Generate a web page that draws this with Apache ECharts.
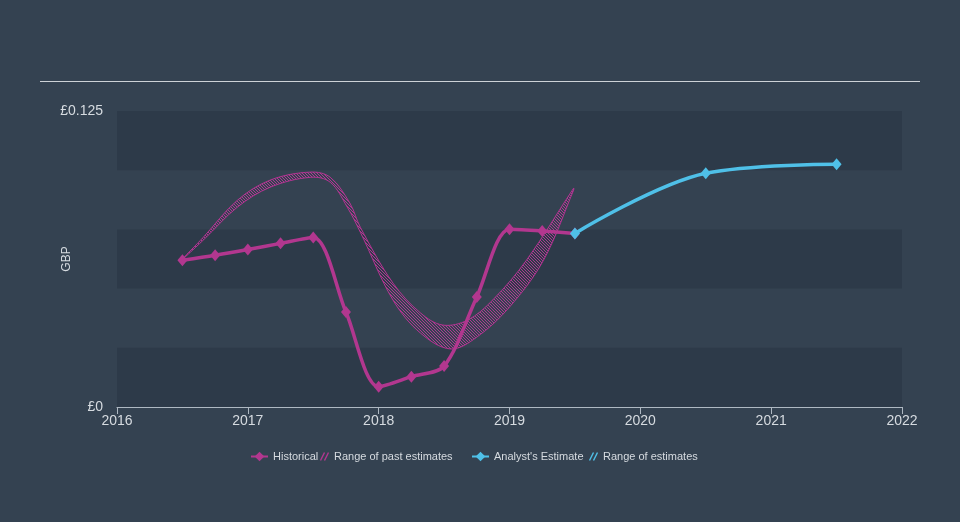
<!DOCTYPE html>
<html>
<head>
<meta charset="utf-8">
<script src="https://cdn.jsdelivr.net/npm/echarts@6/dist/echarts.min.js"></script>
<style>
  html, body { margin: 0; padding: 0; background: #344251; }
  #chart { width: 960px; height: 522px; }
</style>
</head>
<body>
<div id="chart"></div>
<script>
// ---- data ----
const historicalX = [2016.5, 2016.75, 2017, 2017.25, 2017.5, 2017.75, 2018, 2018.25, 2018.5, 2018.75, 2019, 2019.25, 2019.5];
const historicalY = [0.0620, 0.0641, 0.0665, 0.0691, 0.0716, 0.0401, 0.0086, 0.0128, 0.0173, 0.0465, 0.0751, 0.0743, 0.0733];
const estimateX = [2019.5, 2020.5, 2021.5];
const estimateY = [0.0733, 0.0987, 0.1025];
const pastRangeX     = [2016.50, 2016.66, 2016.92, 2017.17, 2017.48, 2017.63, 2017.78, 2017.86, 2018.11, 2018.32, 2018.49, 2018.68, 2018.87, 2019.13, 2019.49];
const pastRangeUpper = [0.0624, 0.0717, 0.0873, 0.0958, 0.0992, 0.0970, 0.0861, 0.0759, 0.0523, 0.0397, 0.0346, 0.0367, 0.0451, 0.0620, 0.0924];
const pastRangeLowerX = [2016.50, 2016.66, 2016.92, 2017.17, 2017.48, 2017.63, 2017.76, 2017.86, 2018.11, 2018.32, 2018.55, 2018.75, 2019.00, 2019.26, 2019.49];
const pastRangeLower  = [0.0624, 0.0705, 0.0844, 0.0928, 0.0970, 0.0949, 0.0844, 0.0738, 0.0451, 0.0312, 0.0245, 0.0295, 0.0422, 0.0620, 0.0916];
const xTicks = [2016, 2017, 2018, 2019, 2020, 2021, 2022];
const yTickLabels = { 0: '£0', 0.125: '£0.125' };

const FONT = 'Liberation Sans, Arial, sans-serif';
const MAGENTA = '#b2378f';
const BLUE = '#4fc0e8';
const TEXT = '#d6dbe0';

function makeHatch(color, size) {
  const c = document.createElement('canvas');
  c.width = size; c.height = size;
  const ctx = c.getContext('2d');
  ctx.strokeStyle = color;
  ctx.lineWidth = 1;
  ctx.beginPath();
  ctx.moveTo(0, 0); ctx.lineTo(size, size);
  ctx.moveTo(-1, size - 1); ctx.lineTo(1, size + 1);
  ctx.moveTo(size - 1, -1); ctx.lineTo(size + 1, 1);
  ctx.stroke();
  return c;
}
function makeLegendHatch(color) {
  const c = document.createElement('canvas');
  c.width = 9; c.height = 9;
  const ctx = c.getContext('2d');
  ctx.strokeStyle = color;
  ctx.lineWidth = 1.4;
  ctx.beginPath();
  ctx.moveTo(0.5, 8.5); ctx.lineTo(4.5, 0.5);
  ctx.moveTo(4.5, 8.5); ctx.lineTo(8.5, 0.5);
  ctx.stroke();
  return 'image://' + c.toDataURL();
}

const hatchPattern = { image: makeHatch('rgba(188,56,152,0.9)', 3), repeat: 'repeat' };
const pastIcon = makeLegendHatch('#b2378f');
const futIcon = makeLegendHatch('#4fc0e8');

const legendText = { color: TEXT, fontSize: 11, fontFamily: FONT };
function legendAt(left, name, icon, w, h) {
  const item = icon ? { name: name, icon: icon } : { name: name };
  return {
    left: left, top: 451, itemWidth: w, itemHeight: h, itemGap: 0, padding: 0,
    textStyle: legendText, data: [item]
  };
}

const chart = echarts.init(document.getElementById('chart'));
const option = {
  backgroundColor: '#344251',
  animation: false,
  grid: { left: 117, right: 58, top: 111, bottom: 115 },
  graphic: [{
    type: 'line', shape: { x1: 40, y1: 81.5, x2: 920, y2: 81.5 },
    style: { stroke: '#cdd2d7', lineWidth: 1 }
  }],
  legend: [
    legendAt(250, 'Historical', null, 17, 12),
    legendAt(320, 'Range of past estimates', pastIcon, 9, 9),
    legendAt(471, "Analyst's Estimate", null, 17, 12),
    legendAt(589, 'Range of estimates', futIcon, 9, 9)
  ],
  xAxis: {
    type: 'value', min: 2016, max: 2022, interval: 1,
    axisLine: { show: true, lineStyle: { color: '#aeb8c2', width: 1 } },
    axisTick: { show: true, length: 7, lineStyle: { color: '#aeb8c2' } },
    splitLine: { show: false },
    axisLabel: {
      color: TEXT, fontSize: 14, fontFamily: FONT, margin: 7,
      formatter: v => (xTicks.indexOf(v) >= 0 ? String(v) : '')
    }
  },
  yAxis: {
    type: 'value', min: 0, max: 0.125, interval: 0.025,
    name: 'GBP', nameLocation: 'middle', nameGap: 44, nameMoveOverlap: false,
    nameTextStyle: { color: TEXT, fontSize: 12, fontFamily: FONT },
    axisLine: { show: false }, axisTick: { show: false },
    splitLine: { show: false },
    splitArea: { show: true, areaStyle: { color: ['#2d3a49', 'rgba(0,0,0,0)'] } },
    axisLabel: {
      color: TEXT, fontSize: 14, fontFamily: FONT, margin: 14, padding: [0, 0, 8, 0],
      formatter: v => {
        const k = Math.round(v * 1000) / 1000;
        return yTickLabels[k] !== undefined ? yTickLabels[k] : '';
      }
    }
  },
  series: [{
    name: 'Range of past estimates',
    type: 'custom',
    z: 1,
    itemStyle: { color: MAGENTA },
    data: [[pastRangeX[0], pastRangeUpper[0]]],
    encode: { x: 0, y: 1 },
    renderItem: function (params, api) {
      const pts = [];
      for (let i = 0; i < pastRangeX.length; i++) pts.push(api.coord([pastRangeX[i], pastRangeUpper[i]]));
      for (let i = pastRangeLowerX.length - 1; i >= 1; i--) pts.push(api.coord([pastRangeLowerX[i], pastRangeLower[i]]));
      return {
        type: 'polygon',
        shape: { points: pts, smooth: 0.35 },
        style: { fill: hatchPattern, stroke: 'rgba(185,52,150,0.95)', lineWidth: 1 }
      };
    }
  }, {
    name: 'Historical',
    type: 'line',
    z: 3,
    smooth: 0.3,
    symbol: 'diamond', symbolSize: [10, 12],
    lineStyle: { color: MAGENTA, width: 3.5 },
    itemStyle: { color: MAGENTA },
    data: historicalX.map((x, i) => [x, historicalY[i]])
  }, {
    name: "Analyst's Estimate",
    type: 'line',
    z: 4,
    smooth: 0.35,
    symbol: 'diamond', symbolSize: [10, 12],
    lineStyle: { color: BLUE, width: 3.5 },
    itemStyle: { color: BLUE },
    data: estimateX.map((x, i) => [x, estimateY[i]])
  }, {
    name: 'Range of estimates',
    type: 'line',
    itemStyle: { color: BLUE },
    data: []
  }]
};
chart.setOption(option);
</script>
</body>
</html>
